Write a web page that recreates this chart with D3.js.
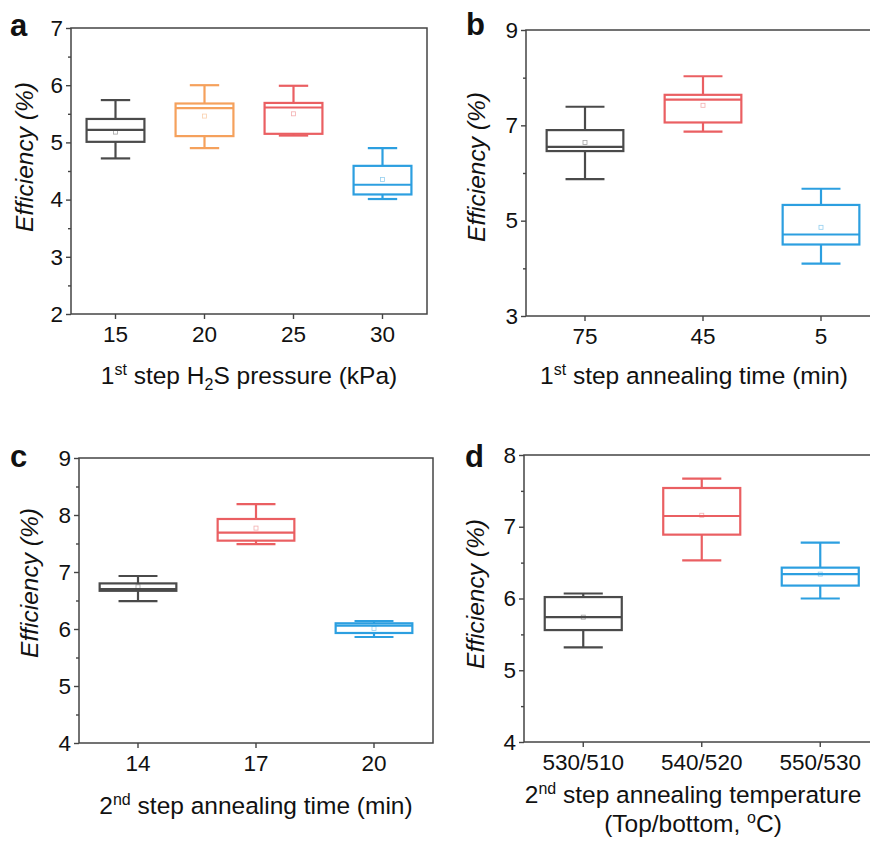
<!DOCTYPE html>
<html>
<head>
<meta charset="utf-8">
<script src="https://cdn.jsdelivr.net/npm/d3@7"></script>
<style>
  body { margin: 0; background: #fff; }
  svg { display: block; font-family: "Liberation Sans", Arial, sans-serif; }
</style>
</head>
<body>
<script>
// DATA ///////////////////////////////////////////
// each row: [min, q1, median, q3, max, mean]
const catsA = ["15", "20", "25", "30"];
const statsA = [
  [4.72, 5.01, 5.22, 5.41, 5.74, 5.18],
  [4.90, 5.11, 5.60, 5.68, 6.00, 5.46],
  [5.12, 5.15, 5.61, 5.69, 5.99, 5.50],
  [4.01, 4.09, 4.26, 4.59, 4.90, 4.35]
];
const catsB = ["75", "45", "5"];
const statsB = [
  [5.87, 6.46, 6.55, 6.90, 7.39, 6.64],
  [6.87, 7.06, 7.54, 7.64, 8.03, 7.42],
  [4.10, 4.50, 4.71, 5.33, 5.67, 4.86]
];
const catsC = ["14", "17", "20"];
const statsC = [
  [6.49, 6.67, 6.70, 6.80, 6.93, 6.74],
  [7.49, 7.55, 7.69, 7.93, 8.19, 7.77],
  [5.86, 5.93, 6.06, 6.10, 6.14, 6.01]
];
const catsD = ["530/510", "540/520", "550/530"];
const statsD = [
  [5.32, 5.56, 5.74, 6.02, 6.07, 5.74],
  [6.53, 6.89, 7.15, 7.54, 7.67, 7.16],
  [6.00, 6.18, 6.34, 6.43, 6.78, 6.34]
];
const ticksA = [2, 3, 4, 5, 6, 7];
const ticksB = [3, 5, 7, 9];
const ticksC = [4, 5, 6, 7, 8, 9];
const ticksD = [4, 5, 6, 7, 8];

const gray = "#4a4a4a", orange = "#f5a15c", red = "#ea5f62", blue = "#2c9fe0";

// PANELS /////////////////////////////////////////
const panels = [
  { letter: "a", lx: 10, ly: 36, cats: catsA, stats: statsA, colors: [gray, orange, red, blue],
    domain: [2, 7], major: ticksA, minorStep: 0.5,
    left: 71, right: 427, top: 28, bottom: 314,
    yTitle: [33, 157], xTitleY: [384],
    xTitle: [[{ t: "1" }, { t: "st", sup: true }, { t: " step H" }, { t: "2", sub: true }, { t: "S pressure (kPa)" }]] },
  { letter: "b", lx: 466, ly: 35, cats: catsB, stats: statsB, colors: [gray, red, blue],
    domain: [3, 9], major: ticksB, minorStep: 1,
    left: 526, right: 880, top: 30, bottom: 316,
    yTitle: [485, 167], xTitleY: [384],
    xTitle: [[{ t: "1" }, { t: "st", sup: true }, { t: " step annealing time (min)" }]] },
  { letter: "c", lx: 10, ly: 467, cats: catsC, stats: statsC, colors: [gray, red, blue],
    domain: [4, 9], major: ticksC, minorStep: 0.5,
    left: 79, right: 433, top: 458, bottom: 743,
    yTitle: [38, 583], xTitleY: [814],
    xTitle: [[{ t: "2" }, { t: "nd", sup: true }, { t: " step annealing time (min)" }]] },
  { letter: "d", lx: 465, ly: 467, cats: catsD, stats: statsD, colors: [gray, red, blue],
    domain: [4, 8], major: ticksD, minorStep: 0.5,
    left: 524, right: 879.5, top: 455, bottom: 742,
    yTitle: [484, 594], xTitleY: [803, 832],
    xTitle: [[{ t: "2" }, { t: "nd", sup: true }, { t: " step annealing temperature" }],
             [{ t: "(Top/bottom, " }, { t: "o", sup: true }, { t: "C)" }]] }
];

const svg = d3.select("body").append("svg").attr("width", 870).attr("height", 842);

// rich text with super/subscripts
const richText = (sel, parts) => {
  let shift = 0;
  parts.forEach((p) => {
    const target = p.sup ? -9 : p.sub ? 6 : 0;
    sel.append("tspan")
      .attr("dy", target - shift)
      .style("font-size", p.sup || p.sub ? "16px" : null)
      .text(p.t);
    shift = target;
  });
};

const styleAxis = (s) => {
  s.select(".domain").remove();
  s.selectAll("line").attr("stroke", "#444").attr("stroke-width", 1.4);
  s.selectAll("text").style("font-size", "22.5px").attr("fill", "#111");
};

panels.forEach((p) => {
  const x = d3.scaleBand().domain(p.cats).range([p.left, p.right]);
  const y = d3.scaleLinear().domain(p.domain).range([p.bottom, p.top]);
  const g = svg.append("g");

  const minor = d3.range(p.domain[0], p.domain[1] + 1e-9, p.minorStep)
    .filter((v) => !p.major.includes(v));

  g.append("g").attr("transform", `translate(${p.left},0)`)
    .call(d3.axisLeft(y).tickValues(minor).tickSize(3).tickFormat(""))
    .call(styleAxis);
  g.append("g").attr("transform", `translate(${p.left},0)`)
    .call(d3.axisLeft(y).tickValues(p.major).tickSize(5).tickPadding(3).tickFormat(d3.format("d")))
    .call(styleAxis);
  g.append("g").attr("transform", `translate(0,${p.bottom})`)
    .call(d3.axisBottom(x).tickSize(5).tickPadding(7))
    .call(styleAxis);

  g.append("rect")
    .attr("x", p.left).attr("y", p.top)
    .attr("width", p.right - p.left).attr("height", p.bottom - p.top)
    .attr("fill", "none").attr("stroke", "#444").attr("stroke-width", 1.5);

  // boxes
  const bw = x.bandwidth() * 0.65;
  const cw = x.bandwidth() * 0.33;
  const boxG = g.selectAll(".box")
    .data(p.stats)
    .join("g")
    .attr("class", "box")
    .attr("stroke", (d, i) => p.colors[i])
    .attr("stroke-width", 2.2)
    .attr("fill", "none")
    .attr("transform", (d, i) => `translate(${x(p.cats[i]) + x.bandwidth() / 2},0)`);

  boxG.append("line").attr("x1", 0).attr("x2", 0)
    .attr("y1", (d) => y(d[4])).attr("y2", (d) => y(d[3]));
  boxG.append("line").attr("x1", 0).attr("x2", 0)
    .attr("y1", (d) => y(d[1])).attr("y2", (d) => y(d[0]));
  boxG.append("line").attr("x1", -cw / 2).attr("x2", cw / 2)
    .attr("y1", (d) => y(d[4])).attr("y2", (d) => y(d[4]));
  boxG.append("line").attr("x1", -cw / 2).attr("x2", cw / 2)
    .attr("y1", (d) => y(d[0])).attr("y2", (d) => y(d[0]));
  boxG.append("rect")
    .attr("x", -bw / 2).attr("width", bw)
    .attr("y", (d) => y(d[3])).attr("height", (d) => y(d[1]) - y(d[3]))
    .attr("fill", "#fff");
  boxG.append("line").attr("x1", -bw / 2).attr("x2", bw / 2)
    .attr("y1", (d) => y(d[2])).attr("y2", (d) => y(d[2]));
  boxG.append("rect")
    .attr("x", -2).attr("width", 4)
    .attr("y", (d) => y(d[5]) - 2).attr("height", 4)
    .attr("stroke-width", 0.8).attr("stroke-opacity", 0.5);

  // labels
  svg.append("text").attr("x", p.lx).attr("y", p.ly)
    .style("font-size", "31px").style("font-weight", "bold").attr("fill", "#111")
    .text(p.letter);

  svg.append("text")
    .attr("transform", `translate(${p.yTitle[0]},${p.yTitle[1]}) rotate(-90)`)
    .attr("text-anchor", "middle")
    .style("font-size", "24.5px").style("font-style", "italic").attr("fill", "#111")
    .text("Efficiency (%)");

  p.xTitle.forEach((line, k) => {
    const t = svg.append("text")
      .attr("x", (Math.min(p.right, 870) + p.left) / 2 + (p.right > 870 ? -4 : 0))
      .attr("y", p.xTitleY[k])
      .attr("text-anchor", "middle")
      .style("font-size", "24.5px").attr("fill", "#111");
    richText(t, line);
  });
});
</script>
</body>
</html>
